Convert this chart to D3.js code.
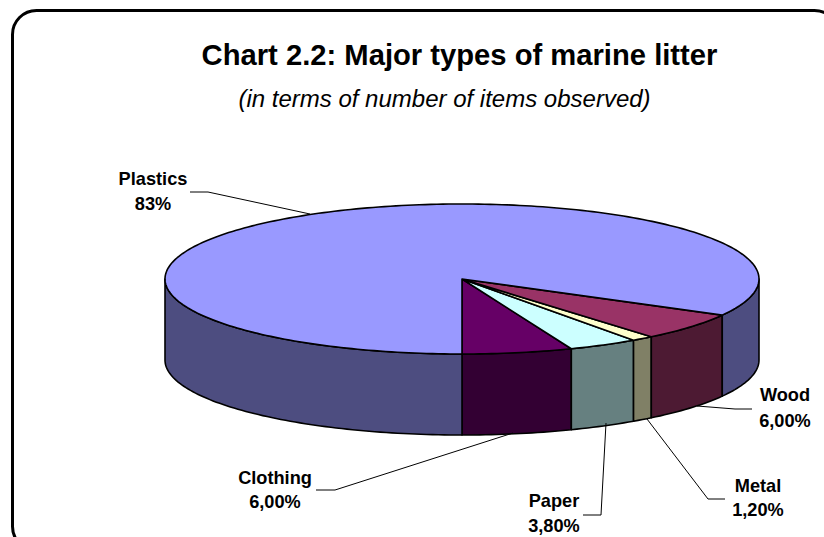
<!DOCTYPE html>
<html><head><meta charset="utf-8">
<script src="https://cdn.jsdelivr.net/npm/d3@7"></script>
<style>html,body{margin:0;padding:0;background:#fff}svg{display:block}text{font-family:"Liberation Sans",Arial,sans-serif;fill:#000}</style>
</head><body><svg id="c" width="824" height="537"></svg>
<script>
const categories=["Clothing","Paper","Metal","Wood","Plastics"];
const values=[6,3.8,1.2,6,83];
const valueLabels=["6,00%","3,80%","1,20%","6,00%","83%"];
const topColors=["#660066","#CCFFFF","#FFFFCC","#993366","#9999FF"];
const sideColors=["#330033","#668080","#808066","#4D1A33","#4D4D80"];
const W=824,H=537,cx=462,cy=279,rx=297,ry=75,depth=81;
const svg=d3.select("#c");
svg.append("rect").attr("x",12.5).attr("y",10.5).attr("width",826).attr("height",540).attr("rx",24).attr("ry",24).attr("fill","#fff").attr("stroke","#000").attr("stroke-width",3);
svg.append("text").attr("x",459.5).attr("y",64.5).attr("text-anchor","middle").attr("font-size",29.2).attr("font-weight","bold").text("Chart 2.2: Major types of marine litter");
svg.append("text").attr("x",444.5).attr("y",107).attr("text-anchor","middle").attr("font-size",24).attr("font-style","italic").text("(in terms of number of items observed)");
const pie=d3.pie().sort(null).startAngle(0).endAngle(2*Math.PI);
const arcs=pie(values);
const px=a=>cx+rx*Math.sin(a), py=a=>cy+ry*Math.cos(a);
const line=d3.line();
const samples=(a0,a1)=>{const n=Math.max(2,Math.ceil(Math.abs(a1-a0)/0.02));return d3.range(n+1).map(i=>a0+(a1-a0)*i/n);};
const gs=svg.append("g").attr("stroke","#000").attr("stroke-width",1.6).attr("stroke-linejoin","round");
function side(a0,a1,c){const s=samples(a0,a1);
 const pts=s.map(a=>[px(a),py(a)]).concat(s.slice().reverse().map(a=>[px(a),py(a)+depth]));
 gs.append("path").attr("d",line(pts)+"Z").attr("fill",c);}
const H1=Math.PI/2,H3=3*Math.PI/2;
arcs.forEach((d,i)=>{
 const a0=d.startAngle,a1=d.endAngle;
 if(a0<H1) side(a0,Math.min(a1,H1),sideColors[i]);
 if(a1>H3) side(Math.max(a0,H3),a1,sideColors[i]);
});
arcs.forEach((d,i)=>{
 const pts=[[cx,cy]].concat(samples(d.startAngle,d.endAngle).map(a=>[px(a),py(a)]));
 gs.append("path").attr("d",line(pts)+"Z").attr("fill",topColors[i]);
});
const labelPos=[[275,484],[554,507],[758,492],[785,401],[153,185]];
const labelGap=[24,25,24,26,25];
const leaders=[
 [[316,490],[335,490],[513,433]],
 [[583,515],[601,515],[606,423]],
 [[725,499],[708,499],[647,419]],
 [[752,409],[735,409],[697,406]],
 [[190,192],[208,192],[310,214]]];
const gl=svg.append("g");
leaders.forEach(p=>gl.append("path").attr("d",line(p)).attr("fill","none").attr("stroke","#000").attr("stroke-width",1));
categories.forEach((c,i)=>{
 const t=svg.append("text").attr("text-anchor","middle").attr("font-size",18.2).attr("font-weight","bold");
 t.append("tspan").attr("x",labelPos[i][0]).attr("y",labelPos[i][1]).text(c);
 t.append("tspan").attr("x",labelPos[i][0]).attr("y",labelPos[i][1]+labelGap[i]).text(valueLabels[i]);
});
</script></body></html>
